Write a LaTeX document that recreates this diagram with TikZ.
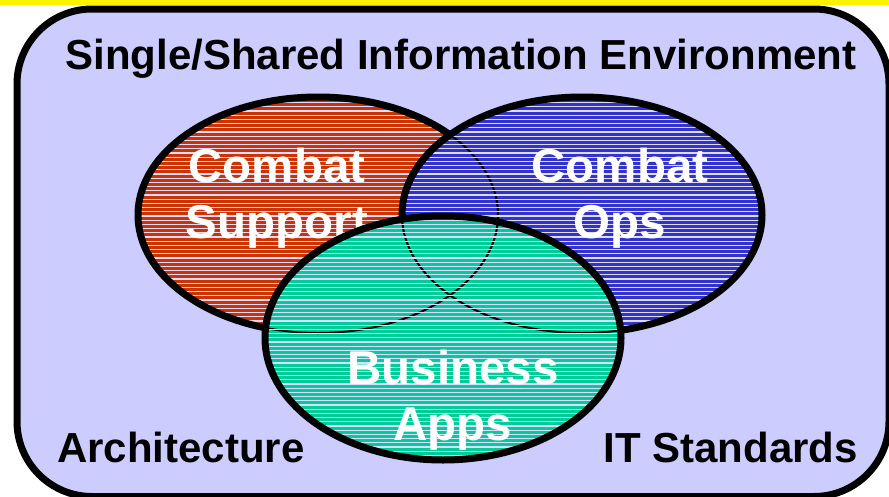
\documentclass[tikz,border=0pt]{standalone}
\usepackage{fontspec}
\setmainfont{Liberation Sans}
\definecolor{lav}{HTML}{CCCCFF}
\definecolor{stripe}{HTML}{DCDCFF}
\definecolor{csred}{HTML}{CC3300}
\definecolor{opblue}{HTML}{3333CC}
\definecolor{bagreen}{HTML}{00CC99}
\tikzset{
  rim/.style={line width=7pt},
  hidden/.style={line width=2pt},
  big/.style={font=\bfseries\fontsize{47.5}{56}\selectfont, text=white, align=center, inner sep=0pt},
  corner/.style={font=\bfseries\fontsize{42}{48}\selectfont, inner sep=0pt}
}
\newcommand{\stripes}{%
  \foreach \yy in {90,94.2,...,470} \draw[stripe, line width=1.2pt] (100,\yy)--(800,\yy);}

\begin{document}
\begin{tikzpicture}[x=1pt,y=-1pt]
  \useasboundingbox (0,0) rectangle (889,496);
  \fill[yellow] (0,0) rectangle (889,5);
  \draw[rim, fill=lav, rounded corners=75pt] (17,9) rectangle (889,496.5);

  % combat support
  \fill[csred] (318,215) ellipse [x radius=180, y radius=118];
  \begin{scope}
    \clip (318,215) ellipse [x radius=180, y radius=118];
    \stripes
  \end{scope}
  \draw[rim] (318,215) ellipse [x radius=180, y radius=118];
  \node[big, anchor=base] (support) at (277,238) {Combat\\Support};

  % combat ops
  \fill[opblue] (582,215) ellipse [x radius=180, y radius=118];
  \begin{scope}
    \clip (582,215) ellipse [x radius=180, y radius=118];
    \draw[hidden] (318,215) ellipse [x radius=180, y radius=118];
    \stripes
  \end{scope}
  \draw[rim] (582,215) ellipse [x radius=180, y radius=118];
  \node[big, anchor=base] (ops) at (620,238) {Combat\\Ops};

  % business apps
  \fill[bagreen] (443,338) ellipse [x radius=178, y radius=122];
  \begin{scope}
    \clip (443,338) ellipse [x radius=178, y radius=122];
    \draw[hidden] (318,215) ellipse [x radius=180, y radius=118];
    \draw[hidden] (582,215) ellipse [x radius=180, y radius=118];
    \stripes
  \end{scope}
  \draw[rim] (443,338) ellipse [x radius=178, y radius=122];
  \node[big, anchor=base] (apps) at (453,440) {Business\\Apps};

  \node[corner, anchor=base] (env) at (461,69) {Single/Shared Information Environment};
  \node[corner, anchor=base west] (arch) at (57,462) {Architecture};
  \node[corner, anchor=base east] (std) at (858,462) {IT Standards};
\end{tikzpicture}
\end{document}
